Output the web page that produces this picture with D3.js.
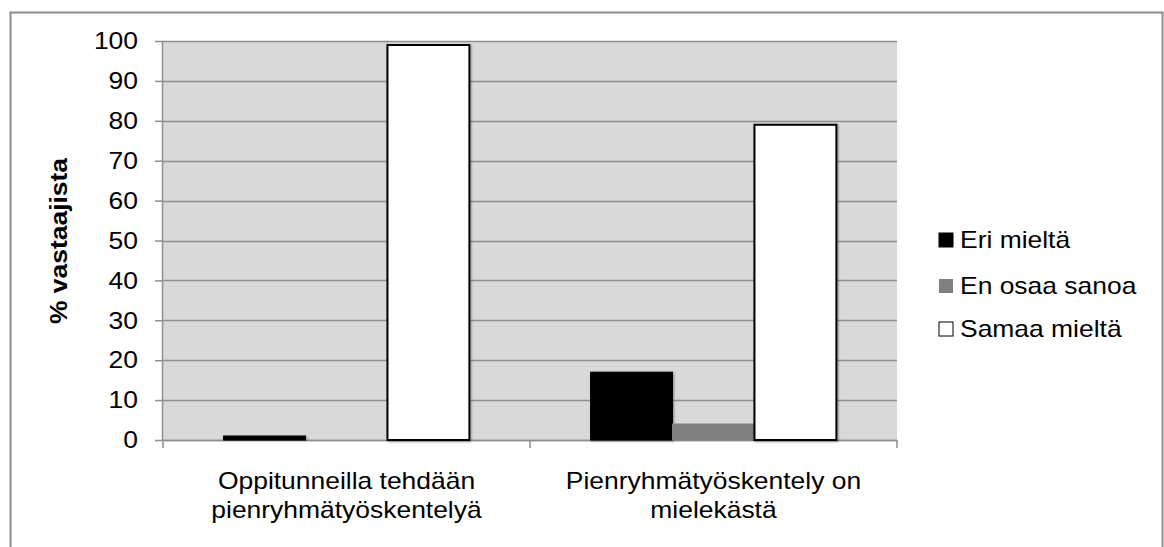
<!DOCTYPE html>
<html>
<head>
<meta charset="utf-8">
<script src="https://cdn.jsdelivr.net/npm/d3@7"></script>
<style>
  body { margin: 0; background: #fff; }
  svg text { font-family: "Liberation Sans", Arial, sans-serif; fill: #000; }
</style>
</head>
<body>
<div id="chart" style="width:1164px;height:547px"></div>
<script>
// ***************数据*******************
const categories = [['Oppitunneilla tehdään', 'pienryhmätyöskentelyä'], ['Pienryhmätyöskentely on', 'mielekästä']];
const seriesNames = ['Eri mieltä', 'En osaa sanoa', 'Samaa mieltä'];
const eriMielta = [1, 17];
const enOsaaSanoa = [0, 4];
const samaaMielta = [99, 79];
const yTicks = [0, 10, 20, 30, 40, 50, 60, 70, 80, 90, 100];

const seriesValues = [eriMielta, enOsaaSanoa, samaaMielta];
const fills = ['#000000', '#808080', '#ffffff'];
const strokes = ['#000000', '#808080', '#000000'];

const node = document.getElementById('chart');
const width = node.offsetWidth;
const height = node.offsetHeight;
const paddingTop = 41;
const paddingBottom = 107;
const paddingLeft = 163;
const paddingRight = 267;
const innerW = width - paddingLeft - paddingRight;
const innerH = height - paddingTop - paddingBottom;
const fontSize = 23;
const stretch = 1.15; // 参考图文字横向略宽

const keys = categories.map((c) => c.join(' '));
const xScale = d3.scaleBand().domain(keys).range([0, innerW]);
const xInner = d3.scaleBand().domain(seriesNames).range([0, xScale.bandwidth()]).paddingOuter(0.74).paddingInner(0);
const yScale = d3.scaleLinear().domain([0, 100]).range([innerH, 0]);

const svg = d3.select(node).append('svg').attr('width', width).attr('height', height);

// 文字（横向拉伸）
function addText(parent, x, y, str, anchor, rotate) {
  const tg = parent.append('g')
    .attr('transform', `translate(${x},${y})${rotate ? ` rotate(${rotate})` : ''} scale(${stretch},1)`);
  return tg.append('text')
    .attr('text-anchor', anchor)
    .attr('font-size', fontSize)
    .text(str);
}

// 外框
svg.append('rect')
  .attr('x', 10.5).attr('y', 12.5)
  .attr('width', 1152).attr('height', 560)
  .attr('fill', 'none').attr('stroke', '#8c8c8c').attr('stroke-width', 2);

const g = svg.append('g').attr('transform', `translate(${paddingLeft},${paddingTop})`);

// 绘图区背景
g.append('rect').attr('width', innerW).attr('height', innerH).attr('fill', '#d9d9d9');

// 网格线
g.selectAll('.grid').data(yTicks).enter().append('line')
  .attr('x1', 0).attr('x2', innerW)
  .attr('y1', (d) => Math.round(yScale(d)) + 0.5).attr('y2', (d) => Math.round(yScale(d)) + 0.5)
  .attr('stroke', '#8f8f8f').attr('stroke-width', 1.5);

// y 轴
const yAxis = d3.axisLeft(yScale).tickValues(yTicks).tickSize(8).tickFormat('');
const yg = g.append('g').call(yAxis);
yg.select('.domain').attr('stroke', '#8f8f8f').attr('stroke-width', 1.5).attr('d', `M-0.5,0V${innerH + 0.5}`);
yg.selectAll('.tick line').attr('stroke', '#8f8f8f').attr('stroke-width', 1.5);
yTicks.forEach((t) => {
  addText(g, -25, yScale(t), String(t), 'end').attr('dy', '0.36em');
});

// x 轴刻度
const xBounds = [0, xScale.bandwidth(), innerW];
g.selectAll('.xtick').data(xBounds).enter().append('line')
  .attr('x1', (d) => d).attr('x2', (d) => d)
  .attr('y1', innerH).attr('y2', innerH + 8)
  .attr('stroke', '#8f8f8f').attr('stroke-width', 1.5);
g.append('line').attr('x1', 0).attr('x2', innerW).attr('y1', innerH + 0.5).attr('y2', innerH + 0.5)
  .attr('stroke', '#8f8f8f').attr('stroke-width', 1.5);

// 阴影
const defs = svg.append('defs');
const f = defs.append('filter').attr('id', 'shadow').attr('x', '-20%').attr('y', '-20%').attr('width', '140%').attr('height', '140%');
f.append('feDropShadow').attr('dx', 1).attr('dy', 1).attr('stdDeviation', 1.2).attr('flood-color', '#000').attr('flood-opacity', 0.35);

// 矩形
seriesNames.forEach((name, si) => {
  g.selectAll('.bar' + si).data(seriesValues[si]).enter().append('rect')
    .attr('x', (d, i) => xScale(keys[i]) + xInner(name))
    .attr('width', xInner.bandwidth())
    .attr('y', (d) => yScale(d))
    .attr('height', (d) => innerH - yScale(d))
    .attr('fill', fills[si])
    .attr('stroke', strokes[si])
    .attr('stroke-width', si === 2 ? 2 : 1)
    .attr('filter', si === 1 ? null : 'url(#shadow)')
    .style('display', (d) => d === 0 ? 'none' : null);
});

// 类别标签
categories.forEach((lines, i) => {
  lines.forEach((l, j) => {
    addText(g, xScale(keys[i]) + xScale.bandwidth() / 2, innerH + 49 + j * 29, l, 'middle');
  });
});

// y 标题
addText(svg, 67, 241, '% vastaajista', 'middle', -90).attr('font-weight', 'bold');

// 图例
const legendY = [240, 286, 329];
const lg = svg.append('g');
seriesNames.forEach((name, i) => {
  lg.append('rect')
    .attr('x', 939).attr('y', legendY[i] - 7)
    .attr('width', 14).attr('height', 14)
    .attr('fill', fills[i])
    .attr('stroke', i === 1 ? 'none' : '#000').attr('stroke-width', 1);
  addText(lg, 960, legendY[i], name, 'start').attr('dy', '0.35em');
});
</script>
</body>
</html>
